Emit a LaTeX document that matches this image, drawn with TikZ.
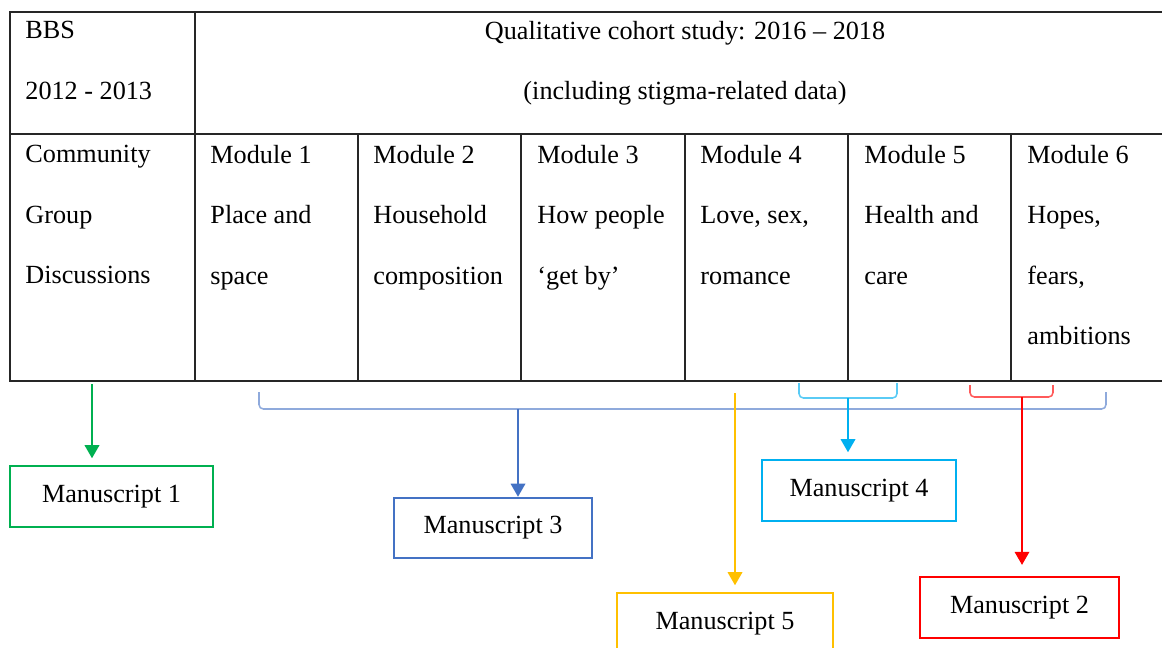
\documentclass[tikz,border=0pt]{standalone}
\usepackage{fontspec}
\setmainfont{Liberation Serif}
\usetikzlibrary{arrows.meta}

\definecolor{msgreen}{HTML}{00B050}
\definecolor{msblue}{HTML}{4472C4}
\definecolor{bracebl}{HTML}{8FAADC}
\definecolor{mscyan}{HTML}{00B0F0}
\definecolor{bracecy}{HTML}{5ACBF5}
\definecolor{msred}{HTML}{FF0000}
\definecolor{bracerd}{HTML}{FF5A5A}
\definecolor{msyellow}{HTML}{FFC000}

\tikzset{
  grid/.style={line width=0.6pt, black!85},
  celltext/.style={anchor=north west, inner sep=0pt, align=left, font=\fontsize{12}{27.6}\selectfont},
  msbox/.style={draw, line width=1.1pt, minimum width=#1, minimum height=27.9pt, inner sep=0pt, font=\fontsize{12}{14}\selectfont},
  msbox/.default=91pt,
  brace/.style={line width=0.7pt, rounded corners=2pt},
  arr/.style={line width=1pt, -{Triangle[length=6pt, width=6.6pt]}}
}

\begin{document}
\begin{tikzpicture}[x=0.458pt, y=-0.458pt]
  \useasboundingbox (0,0) rectangle (1162,648);
  \clip (0,0) rectangle (1162,648);

  % Table grid
  \draw[grid] (1162,12) -- (10,12) -- (10,381) -- (1162,381);
  \draw[grid] (10,134) -- (1162,134);
  \draw[grid] (195,12) -- (195,381);
  \foreach \x in {358,521,685,848,1011}
    \draw[grid] (\x,134) -- (\x,381);

  % Header row
  \node[celltext] (bbs) at (25,21) {BBS\\2012 - 2013};
  \node[celltext, anchor=north, align=center] (qual) at (685,21) {Qualitative cohort study: 2016 -- 2018\\(including stigma-related data)};

  % Module row
  \node[celltext] (cgd) at (25,145) {Community\\Group\\Discussions};
  \node[celltext] (mod1) at (210,145) {Module 1\\Place and\\space};
  \node[celltext] (mod2) at (373,145) {Module 2\\Household\\composition};
  \node[celltext] (mod3) at (537,145) {Module 3\\How people\\`get by'};
  \node[celltext] (mod4) at (700,145) {Module 4\\Love, sex,\\romance};
  \node[celltext] (mod5) at (864,145) {Module 5\\Health and\\care};
  \node[celltext] (mod6) at (1027,145) {Module 6\\Hopes,\\fears,\\ambitions};

  % Manuscripts
  \node[msbox=93pt, draw=msgreen] (ms1) at (111.5,496.5) {Manuscript 1};
  \node[msbox=90.7pt, draw=msblue, minimum height=27.5pt] (ms3) at (493,528) {Manuscript 3};
  \node[msbox=88.9pt, draw=mscyan] (ms4) at (859,490.5) {Manuscript 4};
  \node[msbox=98.9pt, draw=msyellow] (ms5) at (725,623.5) {Manuscript 5};
  \node[msbox=91.1pt, draw=msred] (ms2) at (1019.5,607.5) {Manuscript 2};

  % Braces under the modules
  \draw[brace, draw=bracebl] (259,392) |- (1106,409) -- (1106,392);
  \draw[brace, draw=bracecy] (799,383) |- (897,398) -- (897,383);
  \draw[brace, draw=bracerd] (970,385) |- (1053,397) -- (1053,385);
  \coordinate (tip1) at (92,384);
  \coordinate (tip3) at (518,409);
  \coordinate (tip4) at (848,398);
  \coordinate (tip5) at (735,393);
  \coordinate (tip2) at (1022,397);

  % Arrows
  \draw[arr, color=msgreen, shorten >=3pt] (tip1) -- (tip1 |- ms1.north);
  \draw[arr, color=msblue] (tip3) -- (tip3 |- ms3.north);
  \draw[arr, color=mscyan, shorten >=3pt] (tip4) -- (tip4 |- ms4.north);
  \draw[arr, color=msyellow, shorten >=3pt] (tip5) -- (tip5 |- ms5.north);
  \draw[arr, color=msred, shorten >=5pt] (tip2) -- (tip2 |- ms2.north);
\end{tikzpicture}
\end{document}
